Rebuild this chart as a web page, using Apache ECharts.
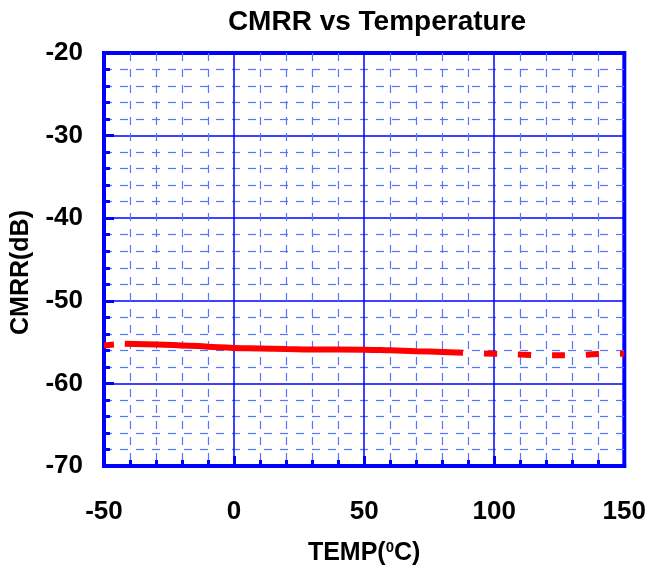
<!DOCTYPE html>
<html>
<head>
<meta charset="utf-8">
<script src="https://cdn.jsdelivr.net/npm/echarts@6/dist/echarts.min.js"></script>
<style>
  html, body { margin: 0; padding: 0; background: #fff; }
  #chart { width: 649px; height: 571px; }
</style>
</head>
<body>
<div id="chart"></div>
<script>
  const tempSolid = [-42, -30, -20, -10, 0, 10, 20, 30, 40, 50, 60, 70, 80, 88];
  const cmrrSolid = [-55.2, -55.3, -55.4, -55.55, -55.7, -55.78, -55.85, -55.9, -55.9, -55.92, -56.0, -56.1, -56.2, -56.3];
  const tempDashLeft = [-50, -42];
  const cmrrDashLeft = [-55.4, -55.2];
  const tempDashRight = [88, 100, 110, 120, 130, 140, 150];
  const cmrrDashRight = [-56.3, -56.4, -56.5, -56.6, -56.6, -56.45, -56.4];

  const blue = "#0000ff";
  const font = "Liberation Sans, Arial, sans-serif";
  const chart = echarts.init(document.getElementById("chart"));
  const pairs = (xs, ys) => xs.map((x, i) => [x, ys[i]]);

  chart.setOption({
    animation: false,
    title: {
      text: "CMRR vs Temperature",
      left: 372, top: 3, textAlign: "center",
      textStyle: { fontFamily: font, fontSize: 28, fontWeight: "bold", color: "#000" }
    },
    grid: { left: 104, right: 21, top: 53, bottom: 105, show: true, borderColor: blue, borderWidth: 4 },
    xAxis: {
      type: "value", min: -50, max: 150, interval: 50,
      name: "TEMP({s|0}C)", nameLocation: "middle", nameGap: 74,
      nameTextStyle: {
        fontFamily: font, fontSize: 25, fontWeight: "bold", color: "#000",
        rich: { s: { fontFamily: font, fontSize: 15, fontWeight: "bold", verticalAlign: "top", padding: [0, 0, 12, 0] } }
      },
      axisLine: { show: true, onZero: false, lineStyle: { color: blue, width: 4 } },
      axisTick: { show: true, inside: true, length: 10, lineStyle: { color: blue, width: 3 } },
      minorTick: { show: true, splitNumber: 5, length: 6, lineStyle: { color: blue, width: 3 } },
      axisLabel: { margin: 33, fontFamily: font, fontSize: 26, fontWeight: "bold", color: "#000" },
      splitLine: { show: true, lineStyle: { color: blue, width: 1.5 } },
      minorSplitLine: { show: true, lineStyle: { color: "#5577ff", width: 1.2, type: [8, 8] } }
    },
    yAxis: {
      type: "value", min: -70, max: -20, interval: 10,
      name: "CMRR(dB)", nameLocation: "middle", nameGap: 70,
      nameTextStyle: { fontFamily: font, fontSize: 25, fontWeight: "bold", color: "#000", padding: [0, 26, 0, 0] },
      axisLine: { show: true, onZero: false, lineStyle: { color: blue, width: 4 } },
      axisTick: { show: true, inside: true, length: 10, lineStyle: { color: blue, width: 3 } },
      minorTick: { show: true, splitNumber: 5, length: 6, lineStyle: { color: blue, width: 3 } },
      axisLabel: { margin: 21, fontFamily: font, fontSize: 26, fontWeight: "bold", color: "#000" },
      splitLine: { show: true, lineStyle: { color: blue, width: 1.5 } },
      minorSplitLine: { show: true, lineStyle: { color: "#5577ff", width: 1.2, type: [8, 8] } }
    },
    series: [
      { type: "line", data: pairs(tempSolid, cmrrSolid), showSymbol: false, smooth: true,
        lineStyle: { color: "#ff0000", width: 6 } },
      { type: "line", data: pairs(tempDashLeft, cmrrDashLeft), showSymbol: false,
        lineStyle: { color: "#ff0000", width: 6, type: [10, 22] } },
      { type: "line", data: pairs(tempDashRight, cmrrDashRight), showSymbol: false, smooth: true,
        lineStyle: { color: "#ff0000", width: 6, type: [13, 21], dashOffset: 13 } }
    ]
  });
</script>
</body>
</html>
